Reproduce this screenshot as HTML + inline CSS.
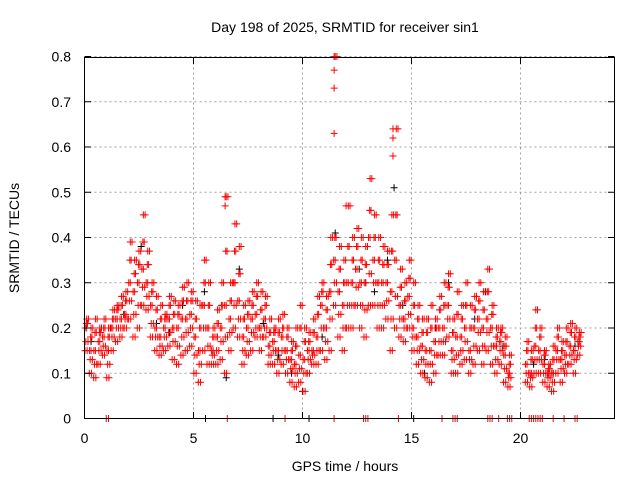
<!DOCTYPE html>
<html><head><meta charset="utf-8"><style>
body{margin:0;background:#fff}
svg text{font-family:"Liberation Sans",sans-serif;font-size:14px;fill:#000}
</style></head><body>
<svg id="chart" width="640" height="480" viewBox="0 0 640 480" xmlns="http://www.w3.org/2000/svg">
<rect width="640" height="480" fill="#fff"/>
<text x="345" y="32" text-anchor="middle">Day 198 of 2025, SRMTID for receiver sin1</text>
<text x="345" y="471" text-anchor="middle">GPS time / hours</text>
<text x="19" y="238" text-anchor="middle" transform="rotate(-90 19 238)">SRMTID / TECUs</text>
<g id="grid"></g>
<g id="marks"></g>
<rect x="84.5" y="57.5" width="530" height="361" fill="none" stroke="#000" stroke-width="1"/>
<g id="ticks"></g>
</svg>
<script>
const xTicks=[0,5,10,15,20];
const yTicks=[0,0.1,0.2,0.3,0.4,0.5,0.6,0.7,0.8];
const yTickLabels=["0","0.1","0.2","0.3","0.4","0.5","0.6","0.7","0.8"];
const binStart=0, binStep=0.2;
const redLo=[.15,.1,.09,.12,.14,.09,.15,.17,.18,.2,.22,.18,.2,.25,.24,.18,.15,.14,.15,.16,.13,.12,.14,.15,.16,.1,.08,.15,.12,.12,.12,.13,.1,.15,.2,.18,.12,.14,.15,.18,.15,.18,.12,.12,.1,.12,.1,.08,.07,.08,.06,.1,.12,.12,.15,.13,.15,.25,.18,.15,.2,.2,.25,.2,.18,.25,.25,.2,.2,.22,.15,.2,.18,.17,.2,.15,.12,.1,.09,.08,.1,.14,.14,.18,.1,.1,.12,.13,.1,.12,.15,.12,.15,.12,.1,.12,.08,.07,null,null,null,.08,.07,.1,.1,.08,.07,.06,.1,.08,.1,.12,.1,.14];
const redQ1=[.17,.13,.12,.15,.16,.12,.18,.2,.2,.22,.26,.23,.25,.29,.27,.21,.18,.16,.18,.19,.17,.16,.18,.19,.2,.14,.12,.2,.16,.14,.15,.17,.18,.19,.25,.22,.15,.17,.19,.2,.18,.2,.14,.15,.13,.15,.13,.11,.1,.11,.1,.13,.14,.15,.2,.17,.22,.3,.23,.2,.25,.25,.29,.25,.24,.32,.3,.25,.25,.26,.22,.27,.22,.2,.23,.18,.15,.13,.12,.12,.14,.17,.17,.22,.13,.14,.15,.17,.13,.16,.19,.16,.19,.16,.13,.15,.11,.09,null,null,null,.1,.09,.13,.13,.1,.09,.08,.13,.11,.12,.14,.13,.16];
const redMid=[.2,.15,.15,.17,.18,.15,.2,.22,.22,.23,.3,.28,.3,.33,.3,.25,.2,.18,.2,.22,.2,.2,.22,.22,.23,.18,.15,.25,.2,.15,.18,.2,.25,.22,.3,.26,.18,.2,.22,.23,.2,.22,.16,.17,.15,.18,.15,.13,.12,.14,.13,.15,.15,.18,.25,.2,.28,.35,.28,.25,.3,.3,.33,.3,.3,.4,.35,.3,.3,.3,.28,.35,.25,.22,.27,.2,.18,.16,.15,.15,.17,.2,.2,.25,.15,.18,.18,.2,.15,.2,.22,.2,.22,.2,.16,.17,.14,.1,null,null,null,.12,.1,.16,.15,.12,.1,.1,.15,.13,.14,.16,.15,.17];
const redQ3=[.21,.18,.19,.19,.2,.18,.22,.24,.25,.26,.35,.32,.34,.39,.34,.28,.24,.22,.22,.25,.23,.23,.26,.26,.26,.22,.2,.3,.25,.18,.21,.25,.37,.26,.37,.32,.22,.23,.25,.27,.24,.25,.19,.19,.19,.2,.18,.15,.16,.2,.17,.17,.19,.23,.28,.24,.34,.4,.33,.3,.38,.35,.38,.35,.34,.46,.4,.35,.34,.34,.37,.45,.29,.26,.31,.25,.22,.19,.19,.2,.2,.24,.25,.29,.19,.23,.22,.25,.2,.24,.26,.24,.28,.23,.18,.19,.16,.12,null,null,null,.15,.13,.2,.18,.14,.11,.13,.18,.15,.17,.19,.18,.18];
const redHi=[.22,.2,.22,.2,.22,.2,.24,.25,.27,.28,.39,.35,.37,.45,.37,.3,.27,.25,.23,.27,.26,.25,.29,.3,.28,.26,.25,.35,.3,.2,.24,.3,.49,.3,.43,.38,.25,.26,.28,.3,.28,.27,.22,.2,.22,.23,.2,.17,.2,.25,.2,.19,.22,.27,.3,.27,.4,.8,.38,.35,.47,.4,.42,.4,.38,.53,.45,.4,.38,.37,.45,.64,.33,.3,.35,.3,.25,.22,.22,.25,.22,.27,.3,.32,.22,.28,.25,.3,.25,.27,.3,.28,.33,.25,.2,.2,.18,.14,null,null,null,.17,.15,.24,.2,.15,.12,.16,.2,.17,.2,.21,.2,.19];
const outT=[11.45,11.45,11.45,11.45,14.15,14.15,14.15,6.45,6.45,12.0];
const outV=[.8,.77,.73,.63,.64,.62,.58,.49,.47,.47];
const blackT=[0.3,1.2,2.6,3.3,4.5,5.5,6.5,7.1,8.2,9.5,10.0,10.9,11.5,12.6,13.3,14.2,14.6,15.6,16.7,17.5,18.4,19.2,20.6,21.5,22.5,1.8,3.9,6.9,8.9,12.9,13.9,16.1,17.9,21.1];
const blackV=[.17,.2,.38,.21,.25,.28,.09,.33,.21,.1,.06,.18,.41,.33,.28,.51,.25,.1,.3,.2,.28,.16,.12,.1,.16,.23,.19,.3,.14,.3,.35,.2,.22,.13];
const zeroRedT=[1.0,1.1,6.55,9.2,11.45,12.8,12.9,13.0,14.4,16.4,16.9,17.0,17.1,18.5,18.6,18.7,19.0,19.4,19.5,19.6,20.4,20.5,20.6,20.7,20.8,20.9,21.0,21.5,22.0,22.5,22.6];
const zeroBlackT=[5.55,8.65,10.3,15.1];

const X0=84.5,PX=21.8,Y0=418.5,PY=452.5;
const sx=t=>X0+t*PX, sy=v=>Y0-v*PY;
const NS="http://www.w3.org/2000/svg";
const grid=document.getElementById('grid'),marks=document.getElementById('marks'),ticks=document.getElementById('ticks');
function ln(p,x1,y1,x2,y2,st,dash){const l=document.createElementNS(NS,'line');l.setAttribute('x1',x1);l.setAttribute('y1',y1);l.setAttribute('x2',x2);l.setAttribute('y2',y2);l.setAttribute('stroke',st);if(dash)l.setAttribute('stroke-dasharray',dash);p.appendChild(l);return l;}
function tx(p,x,y,s,a){const t=document.createElementNS(NS,'text');t.setAttribute('x',x);t.setAttribute('y',y);t.setAttribute('text-anchor',a);t.textContent=s;p.appendChild(t);return t;}
xTicks.forEach(t=>{const x=sx(t);
 if(t>0){const g=ln(grid,x,57.5,x,418.5,'#a0a0a0','2,3');
 
 }
 const k=ln(ticks,x,418.5,x,412,'#000');
 
 
 ln(ticks,x,57.5,x,64,'#000');
 const l=tx(ticks,x,443,String(t),'middle');
 
 });
yTicks.forEach((v,i)=>{const y=sy(v);
 if(i>0){const g=ln(grid,84.5,y,614.5,y,'#a0a0a0','2,3');
 
 }
 ln(ticks,84.5,y,91,y,'#000');ln(ticks,614.5,y,608,y,'#000');
 const l=tx(ticks,71,y+5,yTickLabels[i],'end');
 
 });
function plus(x,y,c,name){const p=document.createElementNS(NS,'path');
 p.setAttribute('d',`M${x-3.5} ${y}h7M${x} ${y-3.5}v7`);p.setAttribute('stroke',c);p.setAttribute('fill','none');
 
 
 marks.appendChild(p);}
blackT.forEach((t,i)=>plus(sx(t),sy(blackV[i]),'#000','black-point'));
zeroBlackT.forEach(t=>plus(sx(t),sy(0),'#000','black-zero-point'));
const series=[[redLo,0.02,0.12],[redQ1,0.06,0.16],[redMid,0.1,0.03],[redQ3,0.14,0.08],[redHi,0.18,0.1]];
series.forEach(([arr,o1,o2])=>{
 arr.forEach((v,i)=>{if(v==null)return;const t=binStart+i*binStep;
  plus(sx(t+o1),sy(v),'#f00','red-point');
  plus(sx(t+o2),sy(v),'#f00','red-point');});});
outT.forEach((t,i)=>plus(sx(t),sy(outV[i]),'#f00','red-outlier'));
zeroRedT.forEach(t=>plus(sx(t),sy(0),'#f00','red-zero-point'));
</script>
</body></html>
